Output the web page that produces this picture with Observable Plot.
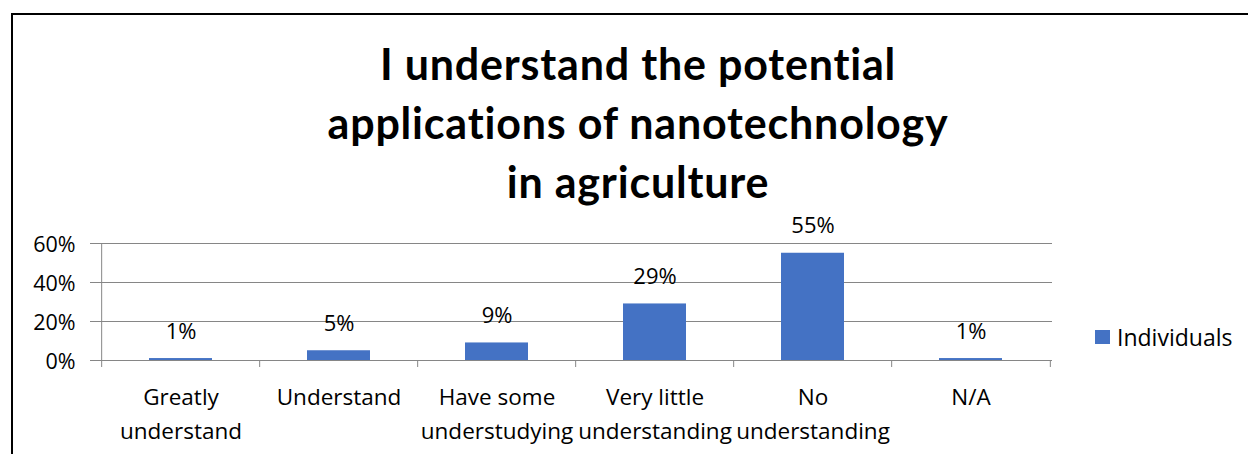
<!DOCTYPE html>
<html>
<head>
<meta charset="utf-8">
<script src="https://cdn.jsdelivr.net/npm/d3@7"></script>
<script src="https://cdn.jsdelivr.net/npm/@observablehq/plot@0.6"></script>
<style>
  html, body { margin: 0; padding: 0; background: #fff; }
  body { position: relative; width: 1248px; height: 454px; overflow: hidden; font-family: "Open Sans", Lato, sans-serif; }
  #frame { position: absolute; left: 11px; top: 13px; width: 1300px; height: 500px; border: 2px solid #000; box-sizing: border-box; }
  #title { position: absolute; left: 12px; width: 1252px; top: 34px; text-align: center; font-family: Lato, sans-serif; font-weight: bold; font-size: 43px; letter-spacing: 0.8px; line-height: 59px; color: #000; }
  #chart { position: absolute; left: 0; top: 195px; }
  #legend { position: absolute; left: 1095px; top: 321px; display: flex; align-items: center; font-size: 23px; color: #000; }
  #legend .sw { width: 15px; height: 14px; background: #4472C4; margin-right: 7px; }
</style>
</head>
<body>
<div id="frame"></div>
<div id="title">I understand the potential<br>applications of nanotechnology<br>in agriculture</div>
<div id="chart"></div>
<div id="legend"><div class="sw"></div><span id="legendLabel"></span></div>
<script>
const categories = ["Greatly understand", "Understand", "Have some understudying", "Very little understanding", "No understanding", "N/A"];
const categoryLabels = ["Greatly\nunderstand", "Understand", "Have some\nunderstudying", "Very little\nunderstanding", "No\nunderstanding", "N/A"];
const values = [0.01, 0.05, 0.09, 0.29, 0.55, 0.01];
const valueLabels = ["1%", "5%", "9%", "29%", "55%", "1%"];
const yTicks = [0, 0.2, 0.4, 0.6];
const seriesName = "Individuals";

document.getElementById("legendLabel").textContent = seriesName;

const data = categories.map((c, i) => ({category: c, value: values[i], label: valueLabels[i], tick: categoryLabels[i]}));

const width = 1248, height = 259;
const marginLeft = 100, marginRight = 196, marginTop = 48, marginBottom = 94;
const step = (width - marginLeft - marginRight) / categories.length;
const frameH = height - marginTop - marginBottom;
const grid = "#868686";

const chart = Plot.plot({
  width, height, marginLeft, marginRight, marginTop, marginBottom,
  style: {fontFamily: "'Open Sans', Lato, sans-serif", color: "#000", background: "transparent"},
  x: {domain: categories, paddingInner: 0.6, paddingOuter: 0.3, axis: null},
  y: {domain: [0, 0.6], axis: null},
  marks: [
    Plot.ruleY(yTicks, {y: d => d, stroke: grid, strokeWidth: 1, insetLeft: -10}),
    Plot.barY(data, {x: "category", y: "value", fill: "#4472C4"}),
    Plot.ruleX(categories, {x: d => d, dx: -step / 2, stroke: grid, insetTop: frameH, insetBottom: -7}),
    Plot.ruleX([categories[categories.length - 1]], {x: d => d, dx: step / 2, stroke: grid, insetTop: frameH, insetBottom: -7}),
    Plot.ruleX([categories[0]], {x: d => d, dx: -step / 2, stroke: grid}),
    Plot.text(data, {x: "category", y: "value", text: "label", dy: -27, fontSize: 22, fill: "#000"}),
    Plot.text(data, {x: "category", y: 0, text: "tick", dy: 20, lineAnchor: "top", lineHeight: 1.51, fontSize: 22.5, fill: "#000"}),
    Plot.text(yTicks, {y: d => d, text: d => Math.round(d * 100) + "%", frameAnchor: "left", dx: -25, dy: 1.5, textAnchor: "end", fontSize: 21.5, fill: "#000"})
  ]
});
document.getElementById("chart").appendChild(chart);
</script>
</body>
</html>
